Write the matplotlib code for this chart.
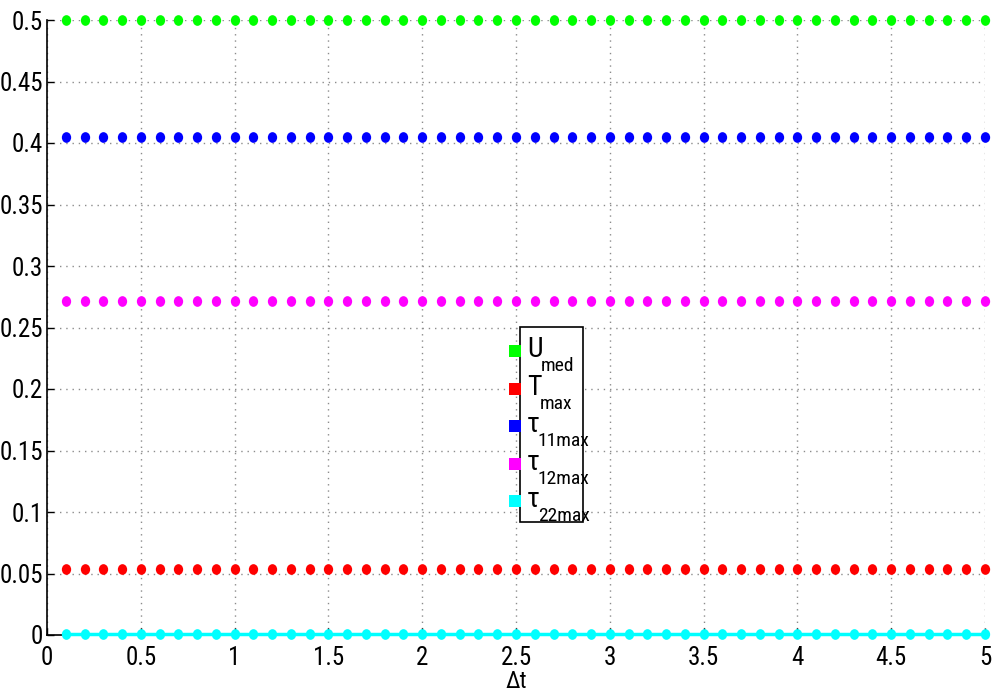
import numpy as np
import matplotlib
matplotlib.use("Agg")
import matplotlib.pyplot as plt
from matplotlib import font_manager
from matplotlib.patches import Rectangle
from matplotlib.lines import Line2D
from matplotlib.path import Path
from matplotlib.transforms import Affine2D

# pick a narrow sans-serif for all labels
_installed = {f.name for f in font_manager.fontManager.ttflist}
_narrow = [n for n in ['Roboto Condensed', 'Archivo Narrow', 'PT Sans Narrow',
                       'Liberation Sans Narrow', 'Liberation Sans'] if n in _installed]
FAMILY = [_narrow[0], 'DejaVu Sans']
plt.rcParams['font.family'] = FAMILY

# time steps
dt = [round(0.1 * k, 1) for k in range(1, 51)]

# maximum values per time step
u_med = [0.5] * 50
t_max = [0.054] * 50
tau11_max = [0.405] * 50
tau12_max = [0.2715] * 50
tau22_max = [0.0008] * 50

symbols = ['U', 'T', 'τ', 'τ', 'τ']
subscripts = ['med', 'max', '11max', '12max', '22max']
colors = ['#00ff00', '#ff0000', '#0000ff', '#ff00ff', '#00ffff']

xticks = [0, 0.5, 1, 1.5, 2, 2.5, 3, 3.5, 4, 4.5, 5]
yticks = [0, 0.05, 0.1, 0.15, 0.2, 0.25, 0.3, 0.35, 0.4, 0.45, 0.5]

W, H = 997, 698
fig = plt.figure(figsize=(W / 100, H / 100), dpi=100)
ax = fig.add_axes([47 / W, 1 - 635 / H, (985 - 47) / W, (635 - 20) / H])

# slightly tall elliptical dot
dot = Path.unit_circle().transformed(Affine2D().scale(0.87, 1.0))

series = [u_med, t_max, tau11_max, tau12_max, tau22_max]
for i, (ys, c) in enumerate(zip(series, colors)):
    ls = '-' if i == 4 else 'none'
    ax.plot(dt, ys, linestyle=ls, color=c, lw=2.5, marker=dot, markersize=7.7,
            markeredgewidth=0, clip_on=False, zorder=3)

ax.set_xlim(0, 5)
ax.set_ylim(0, 0.5)
ax.set_xticks(xticks)
ax.set_xticklabels([f'{v:g}' for v in xticks])
ax.set_yticks(yticks)
ax.set_yticklabels([f'{v:g}' for v in yticks])
ax.tick_params(axis='both', direction='in', length=5, width=1, labelsize=18)
ax.tick_params(axis='y', pad=3)
ax.tick_params(axis='x', pad=8)
ax.grid(True, linestyle=(0, (1, 3.5)), color='#8c8c8c', linewidth=1)
for s in ['top', 'right']:
    ax.spines[s].set_visible(False)
for s in ['left', 'bottom']:
    ax.spines[s].set_linewidth(1.2)
ax.set_xlabel('Δt', fontsize=17, labelpad=0)

# legend: box, colour swatches outside its left edge, symbol + subscript labels
fig.patches.append(Rectangle((520 / W, 1 - 522 / H), 63 / W, 195 / H,
                             transform=fig.transFigure, facecolor='white',
                             edgecolor='black', lw=1.2, zorder=5))
baselines = [357, 395, 432, 470, 507]
renderer = fig.canvas.get_renderer()
for sym, sub, c, base in zip(symbols, subscripts, colors, baselines):
    fig.lines.append(Line2D([514.5 / W], [1 - (base - 6) / H], transform=fig.transFigure,
                            marker='s', markersize=8.2, color=c, markeredgewidth=0,
                            zorder=6))
    t = fig.text(527 / W, 1 - base / H, sym, fontsize=20, ha='left', va='baseline',
                 zorder=7)
    x1 = t.get_window_extent(renderer).x1
    fig.text((x1 - 2) / W, 1 - (base + 14) / H, sub, fontsize=14, ha='left',
             va='baseline', zorder=7)

fig.savefig('out.png', dpi=100)
